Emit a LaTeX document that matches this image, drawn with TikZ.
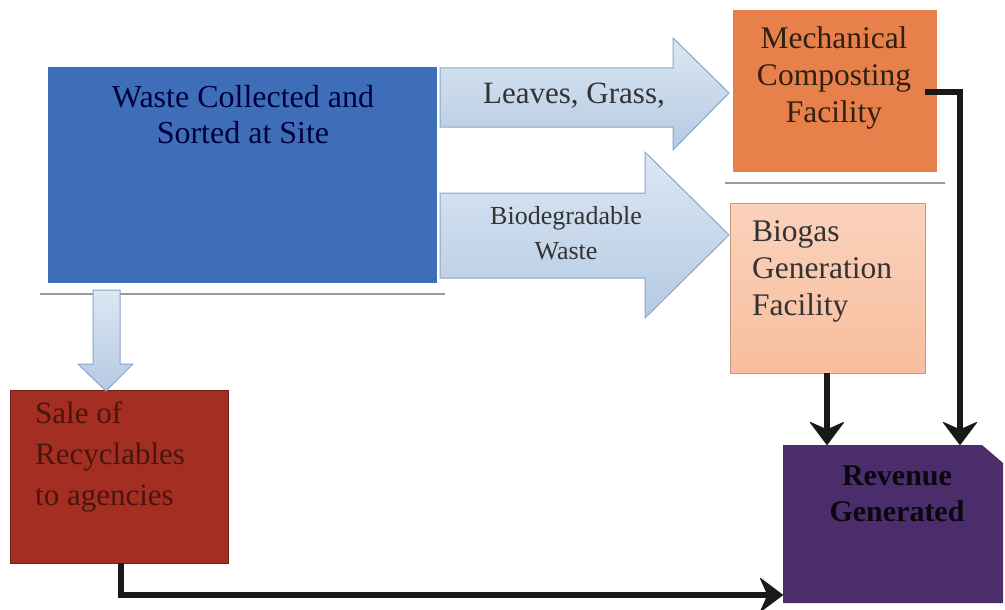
\documentclass[tikz,border=0pt]{standalone}
\usepackage{fontspec}
\setmainfont{Liberation Serif}
\usetikzlibrary{arrows.meta}
\definecolor{wblue}{HTML}{3E6EB8}
\definecolor{worange}{HTML}{E8804C}
\definecolor{wpeach}{HTML}{F8BE9E}
\definecolor{wpeachtop}{HTML}{FAD2BC}
\definecolor{wred}{HTML}{A42E22}
\definecolor{wpurple}{HTML}{4B2D6C}
\definecolor{arrtop}{HTML}{DCE7F3}
\definecolor{arrbot}{HTML}{B5CAE3}
\definecolor{arredge}{HTML}{8AA5C6}
\tikzset{
  box/.style={draw=none, inner sep=0pt, outer sep=0pt},
  blockarrow/.style={draw=arredge, line width=1pt, top color=arrtop, bottom color=arrbot},
  flow/.style={draw=black!90, line width=6pt, -{Stealth[width=36pt,length=24pt,inset=8pt,line width=1pt,round]}},
  shadowline/.style={draw=black!40, line width=1.5pt},
  lbl/.style={inner sep=0pt, align=center},
  big/.style={font=\fontsize{31.5}{37}\selectfont}
}
\begin{document}
\begin{tikzpicture}[x=1pt,y=-1pt]
\useasboundingbox (0,0) rectangle (1005,610);
% boxes
\node[box, fill=wblue, minimum width=389pt, minimum height=216pt, anchor=north west] (waste) at (48,67) {};
\node[lbl, text=black!75!blue, font=\fontsize{32}{36}\selectfont] (wastetxt) at (243,115) {Waste Collected and\\Sorted at Site};
\node[box, fill=worange, minimum width=204pt, minimum height=162pt, anchor=north west] (mech) at (733,10) {};
\node[lbl, text=black!75!brown, big] (mechtxt) at (834,78) {Mechanical\\Composting\\Facility};
\node[box, top color=wpeachtop, bottom color=wpeach, draw=wpeach!80!black, line width=0.6pt, minimum width=195pt, minimum height=170pt, anchor=north west] (biogas) at (730,203) {};
\node[lbl, align=left, anchor=west, text=black!80, big] (biotxt) at (752,271) {Biogas\\Generation\\Facility};
\node[box, fill=wred, draw=wred!70!black, line width=0.8pt, minimum width=218pt, minimum height=173pt, anchor=north west] (sale) at (10,390) {};
\node[lbl, align=left, anchor=west, text=wred!45!black, font=\fontsize{31}{41}\selectfont] (saletxt) at (35,457) {Sale of\\Recyclables\\to agencies};
\path[fill=wpurple] (783,445) -- (982,445) -- (1003,463) -- (1003,603) -- (783,603) -- cycle;
\node[lbl, text=black!85!wpurple, font=\bfseries\fontsize{30}{36}\selectfont] (revtxt) at (897,494) {Revenue\\Generated};
\coordinate (revtopL) at (827,445);
\coordinate (revtopR) at (960,445);
\coordinate (revleft) at (783,595);
% shadow lines
\draw[shadowline] (40,294) -- (445,294);
\draw[shadowline] (725,183) -- (945,183);
% block arrows
\path[blockarrow] (440,68) -- (673,68) -- (673,38) -- (729,93) -- (673,150) -- (673,127) -- (440,127) -- cycle;
\node[lbl, text=black!80, font=\fontsize{31}{30}\selectfont] (leaves) at (574,96) {Leaves, Grass,};
\path[blockarrow] (440,193) -- (645,193) -- (645,152) -- (729,235) -- (645,318) -- (645,278) -- (440,278) -- cycle;
\node[lbl, text=black!80, font=\fontsize{26}{35}\selectfont] (bio) at (566,233) {Biodegradable\\Waste};
\path[blockarrow] (93,290) -- (120,290) -- (120,364) -- (133,364) -- (106,391) -- (78,364) -- (93,364) -- cycle;
% flow connectors
\coordinate (mechout) at (925,92);
\draw[flow] (mechout) -| (revtopR);
\draw[flow] (biogas.south -| revtopL) -- (revtopL);
\draw[flow] (sale.south -| 121,0) |- (revleft);
\end{tikzpicture}
\end{document}
